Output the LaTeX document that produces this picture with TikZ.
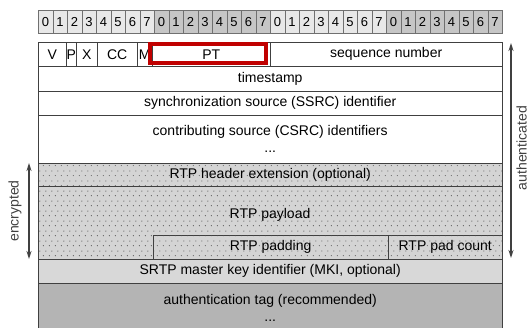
\documentclass[tikz,border=0pt]{standalone}
\usepackage{fontspec}
\setmainfont{Liberation Sans}
\usetikzlibrary{arrows.meta,patterns.meta}

\definecolor{lightbit}{HTML}{E8E8E8}
\definecolor{darkbit}{HTML}{C6C6C6}
\definecolor{bitline}{HTML}{707070}
\definecolor{tabline}{HTML}{404040}
\definecolor{dotgray}{HTML}{D4D4D4}
\definecolor{dotcol}{HTML}{4A4A4A}
\definecolor{mkigray}{HTML}{D8D8D8}
\definecolor{taggray}{HTML}{B4B4B4}
\definecolor{ptred}{HTML}{C00000}

\tikzdeclarepattern{
  name=srtpdots,
  type=uncolored,
  bounding box={(0pt,0pt) and (6pt,10pt)},
  tile size={(6pt,10pt)},
  code={\fill (1.5pt,2.5pt) circle (0.6pt); \fill (4.5pt,7.5pt) circle (0.6pt);}
}

\tikzset{
  field/.style={draw=tabline, fill=white, inner sep=0pt, anchor=north west,
    font=\fontsize{14}{17}\selectfont, align=center},
  bitcell/.style={draw=bitline, inner sep=0pt, anchor=north west,
    minimum width=14.5pt, minimum height=23pt, font=\fontsize{13}{15}\selectfont},
  dotted field/.style={field, fill=dotgray, postaction={pattern=srtpdots, pattern color=dotcol}},
  spanarrow/.style={{Stealth[length=8pt,width=5pt]}-{Stealth[length=8pt,width=5pt]},
    draw=tabline, line width=1.6pt},
  spanlabel/.style={rotate=90, font=\fontsize{14}{17}\selectfont, text=tabline}
}

\begin{document}
\begin{tikzpicture}[x=1pt,y=-1pt]
    \useasboundingbox (0,0) rectangle (529,328);

    % bit numbers
    \foreach \i in {0,...,31}{
        \pgfmathtruncatemacro\bit{mod(\i,8)}
        \pgfmathtruncatemacro\byte{mod(floor(\i/8),2)}
        \ifnum\byte=0 \def\bitfill{lightbit}\else \def\bitfill{darkbit}\fi
        \node[bitcell, fill=\bitfill] (b\i) at (38+14.5*\i,10) {\bit};
    }

    % first word
    \node[field, minimum width=28pt, minimum height=24pt] (v) at (38,42) {V};
    \node[field, minimum width=10pt, minimum height=24pt] (p) at (66,42) {P};
    \node[field, minimum width=21pt, minimum height=24pt] (x) at (76,42) {X};
    \node[field, minimum width=40pt, minimum height=24pt] (cc) at (97,42) {CC};
    \node[field, minimum width=15pt, minimum height=24pt] (m) at (137,42) {M};
    \node[field, minimum width=118pt, minimum height=24pt] (pt) at (152,42) {PT};
    \node[field, minimum width=232pt, minimum height=24pt] (seq) at (270,42) {sequence number};
    \draw[ptred, line width=4pt] (150,44) rectangle (266,63);

    % header words
    \node[field, minimum width=464pt, minimum height=25pt] (ts) at (38,66) {timestamp};
    \node[field, minimum width=464pt, minimum height=24pt] (ssrc) at (38,91) {synchronization source (SSRC) identifier};
    \node[field, minimum width=464pt, minimum height=48pt] (csrc) at (38,115) {contributing source (CSRC) identifiers\\ ...};

    % encrypted part
    \node[dotted field, minimum width=464pt, minimum height=23pt] (ext) at (38,163) {RTP header extension (optional)};
    \node[dotted field, minimum width=464pt, minimum height=73pt] (payload) at (38,186) {};
    \node[font=\fontsize{14}{17}\selectfont, inner sep=0pt] (payloadtxt) at (270,215) {RTP payload};
    \node[dotted field, minimum width=235pt, minimum height=24pt] (pad) at (153,235) {RTP padding};
    \node[dotted field, minimum width=114pt, minimum height=24pt] (padcount) at (388,235) {RTP pad count};

    % trailer
    \node[field, fill=mkigray, minimum width=464pt, minimum height=24pt] (mki) at (38,259) {SRTP master key identifier (MKI, optional)};
    \node[field, fill=taggray, minimum width=464pt, minimum height=50pt] (tag) at (38,283) {authentication tag (recommended)\\ ...};

    % spans
    \coordinate (enctop) at (29,163);
    \coordinate (encbot) at (29,259);
    \draw[spanarrow] (enctop) -- (encbot);
    \node[spanlabel] (enc) at (15,211) {encrypted};

    \coordinate (authtop) at (511,43);
    \coordinate (authbot) at (511,258);
    \draw[spanarrow] (authtop) -- (authbot);
    \node[spanlabel] (auth) at (521.5,148) {authenticated};
\end{tikzpicture}
\end{document}
